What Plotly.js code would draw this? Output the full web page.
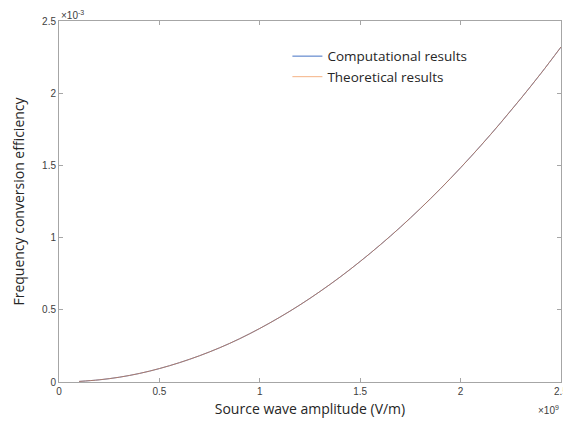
<!DOCTYPE html>
<html>
<head>
<script src="https://cdn.plot.ly/plotly-3.0.1.min.js"></script>
<style>html,body{margin:0;padding:0;background:#fff;overflow:hidden;}#chart{width:563px;height:425px;}</style>
</head>
<body>
<div id="chart"></div>
<script>
// Source wave amplitude (units of 1e9 V/m)
var amplitude = [0.1,0.2,0.3,0.4,0.5,0.6,0.7,0.8,0.9,1.0,1.1,1.2,1.3,1.4,1.5,1.6,1.7,1.8,1.9,2.0,2.1,2.2,2.3,2.4,2.5];
// Frequency conversion efficiency (units of 1e-3)
var computational = [0.004,0.015,0.033,0.059,0.093,0.134,0.182,0.237,0.300,0.371,0.449,0.534,0.627,0.727,0.835,0.950,1.072,1.202,1.339,1.484,1.636,1.796,1.963,2.137,2.32];
var theoretical   = [0.004,0.015,0.033,0.059,0.093,0.134,0.182,0.237,0.300,0.371,0.449,0.534,0.627,0.727,0.835,0.950,1.072,1.202,1.339,1.484,1.636,1.796,1.963,2.137,2.32];
var xTicks = [0,0.5,1,1.5,2,2.5];
var xTickText = ['0','0.5','1','1.5','2','2.5'];
var yTicks = [0,0.5,1,1.5,2,2.5];
var yTickText = ['0','0.5','1','1.5','2','2.5'];

var traces = [
  {x: amplitude, y: computational, type:'scatter', mode:'lines', name:'Computational results',
   line:{color:'#4472C4', width:1, shape:'spline'}},
  {x: amplitude, y: theoretical, type:'scatter', mode:'lines', name:'Theoretical results',
   line:{color:'#ED7D31', width:1, shape:'spline'}, opacity:0.6}
];

var axisCommon = {
  showgrid:false, zeroline:false, showline:true, linecolor:'#a6a6a6', linewidth:1,
  mirror:'allticks', ticks:'inside', ticklen:4, tickcolor:'#a6a6a6',
  ticklabeloverflow:'allow',
  tickfont:{family:'Liberation Sans, Arial, sans-serif', size:10, color:'#404040'}
};

var layout = {
  width:563, height:425,
  margin:{l:59, r:2, t:21, b:43},
  paper_bgcolor:'#fff', plot_bgcolor:'#fff',
  showlegend:true,
  legend:{x:0.455, y:0.945, xanchor:'left', yanchor:'top', bgcolor:'rgba(0,0,0,0)',
    font:{family:'Open Sans, Noto Sans, sans-serif', size:13.5, color:'#262626'},
    tracegroupgap:0, itemwidth:30},
  xaxis: Object.assign({}, axisCommon, {range:[0,2.5], tickvals:xTicks, ticktext:xTickText,
    title:{text:'Source wave amplitude (V/m)', standoff:8,
      font:{family:'Open Sans, Noto Sans, sans-serif', size:14, color:'#262626'}}}),
  yaxis: Object.assign({}, axisCommon, {range:[0,2.5], tickvals:yTicks, ticktext:yTickText,
    title:{text:'Frequency conversion efficiency', standoff:14,
      font:{family:'Open Sans, Noto Sans, sans-serif', size:14, color:'#262626'}}}),
  annotations:[
    {xref:'paper', yref:'paper', x:0, y:1, xanchor:'left', yanchor:'bottom', showarrow:false,
     text:'×10<sup>-3</sup>', font:{family:'Liberation Sans, Arial, sans-serif', size:10, color:'#404040'}, yshift:-2},
    {xref:'paper', yref:'paper', x:1, y:0, xanchor:'right', yanchor:'top', showarrow:false,
     text:'×10<sup>9</sup>', font:{family:'Liberation Sans, Arial, sans-serif', size:10, color:'#404040'}, yshift:-20}
  ]
};

Plotly.newPlot('chart', traces, layout, {displayModeBar:false, staticPlot:true});
</script>
</body>
</html>
